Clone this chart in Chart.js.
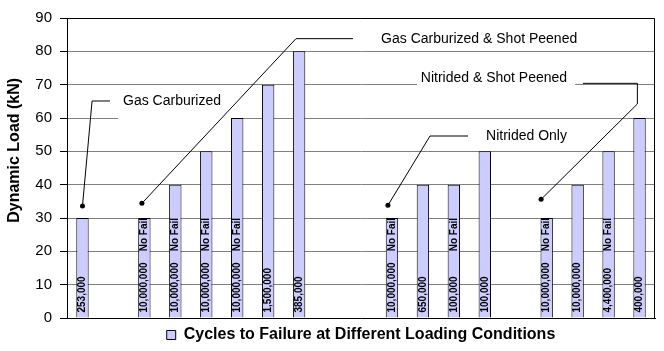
<!DOCTYPE html>
<html>
<head>
<meta charset="utf-8">
<script src="https://cdn.jsdelivr.net/npm/chart.js@4.4.0/dist/chart.umd.min.js"></script>
<style>
  html, body { margin: 0; padding: 0; background: #fff; }
</style>
</head>
<body>
<canvas id="chart" width="664" height="351"></canvas>
<script>
// cycles to failure, printed inside each bar
const cycles = ["253,000", "", "10,000,000", "10,000,000", "10,000,000", "10,000,000", "1,500,000", "385,000", "", "",
  "10,000,000", "650,000", "100,000", "100,000", "", "10,000,000", "10,000,000", "4,400,000", "400,000"];
// dynamic load in kN
const loads = [30, null, 30, 40, 50, 60, 70, 80, null, null, 30, 40, 40, 50, null, 30, 40, 50, 60];
// runouts
const noFail = [false, false, true, true, true, true, false, false, false, false,
  true, false, true, false, false, true, false, true, false];

const legendLabel = "Cycles to Failure at Different Loading Conditions";
const yTitle = "Dynamic Load (kN)";
const yMin = 0, yMax = 90, yStep = 10;

const FONT = "'Liberation Sans', Arial, sans-serif";

// callouts: points are [category index, load value]
const callouts = [
  { text: "Gas Carburized", path: [[0, 33.6], [0.31, 65.1], [0.89, 65.1]], at: [1.31, 65.1], align: "left", box: [1.15, 4.8, 58.8, 69.2] },
  { text: "Gas Carburized & Shot Peened", path: [[1.92, 34.4], [6.9, 83.8], [8.74, 83.8]], at: [9.65, 83.6], align: "left" },
  { text: "Nitrided Only", path: [[9.87, 33.8], [11.23, 54.6], [12.46, 54.6]], at: [13.04, 54.6], align: "left" },
  { text: "Nitrided & Shot Peened", path: [[14.82, 35.6], [17.93, 64.2], [17.93, 70.4], [16.17, 70.4]], at: [15.66, 72.1], align: "right", box: [10.81, 15.92, 68.8, 75] },
];

const extras = {
  id: "extras",
  beforeDatasetsDraw(chart) {
    const { ctx, chartArea: a, scales: { x, y } } = chart;
    ctx.save();
    // white boxes behind the callout texts
    ctx.fillStyle = "#fff";
    callouts.forEach(c => {
      if (!c.box) return;
      const x0 = x.getPixelForValue(c.box[0]), x1 = x.getPixelForValue(c.box[1]);
      const y0 = y.getPixelForValue(c.box[3]), y1 = y.getPixelForValue(c.box[2]);
      ctx.fillRect(x0, y0, x1 - x0, y1 - y0);
    });
    // plot border
    ctx.strokeStyle = "#000";
    ctx.lineWidth = 1;
    ctx.beginPath();
    ctx.moveTo(a.left, a.top + 0.5);
    ctx.lineTo(a.right - 0.5, a.top + 0.5);
    ctx.lineTo(a.right - 0.5, a.bottom);
    ctx.stroke();
    ctx.restore();
  },
  afterDatasetsDraw(chart) {
    const { ctx, scales: { x, y } } = chart;
    const meta = chart.getDatasetMeta(0);
    ctx.save();
    ctx.fillStyle = "#000";
    ctx.font = "bold 10px " + FONT;
    ctx.textAlign = "left";
    ctx.textBaseline = "middle";
    meta.data.forEach((bar, i) => {
      if (loads[i] == null) return;
      ctx.save();
      ctx.translate(bar.x, bar.base - 5);
      ctx.rotate(-Math.PI / 2);
      ctx.fillText(cycles[i], 0, 0);
      ctx.restore();
      if (noFail[i]) {
        ctx.save();
        ctx.translate(bar.x, y.getPixelForValue(20));
        ctx.rotate(-Math.PI / 2);
        ctx.fillText("No Fail", 0, 0);
        ctx.restore();
      }
    });

    // callouts
    ctx.strokeStyle = "#000";
    ctx.lineWidth = 1;
    ctx.font = "14px " + FONT;
    callouts.forEach(c => {
      const pts = c.path.map(p => [x.getPixelForValue(p[0]), y.getPixelForValue(p[1])]);
      ctx.beginPath();
      pts.forEach((p, k) => k ? ctx.lineTo(p[0], p[1]) : ctx.moveTo(p[0], p[1]));
      ctx.stroke();
      ctx.beginPath();
      ctx.arc(pts[0][0], pts[0][1], 2.5, 0, Math.PI * 2);
      ctx.fill();
      ctx.textAlign = c.align;
      ctx.fillText(c.text, x.getPixelForValue(c.at[0]), y.getPixelForValue(c.at[1]));
    });

    // y axis title
    ctx.font = "bold 16px " + FONT;
    ctx.textAlign = "center";
    ctx.translate(15, y.getPixelForValue(50.3));
    ctx.rotate(-Math.PI / 2);
    ctx.fillText(yTitle, 0, 0);
    ctx.restore();
  }
};

new Chart(document.getElementById("chart"), {
  type: "bar",
  data: {
    labels: cycles,
    datasets: [{
      label: legendLabel,
      data: loads,
      backgroundColor: "#ccccff",
      borderColor: "#000",
      borderWidth: 1,
      barPercentage: 0.4,
      categoryPercentage: 1,
    }],
  },
  options: {
    responsive: false,
    animation: false,
    layout: { padding: { top: 18, right: 9, left: 0, bottom: -2 } },
    plugins: {
      legend: {
        position: "bottom",
        fullSize: false,
        labels: {
          boxWidth: 9,
          boxHeight: 9,
          color: "#000",
          padding: 9,
          font: { family: FONT, size: 16, weight: "bold" },
        },
      },
      tooltip: { enabled: false },
    },
    scales: {
      x: {
        grid: { display: false, drawTicks: false },
        ticks: { display: false },
        border: { color: "#000" },
      },
      y: {
        min: yMin,
        max: yMax,
        ticks: { stepSize: yStep, color: "#000", padding: 8, font: { family: FONT, size: 15 } },
        grid: { color: "#808080", tickColor: "#000", tickLength: 7 },
        border: { color: "#000" },
        afterFit(scale) { scale.width = 67; },
      },
    },
  },
  plugins: [extras],
});
</script>
</body>
</html>
